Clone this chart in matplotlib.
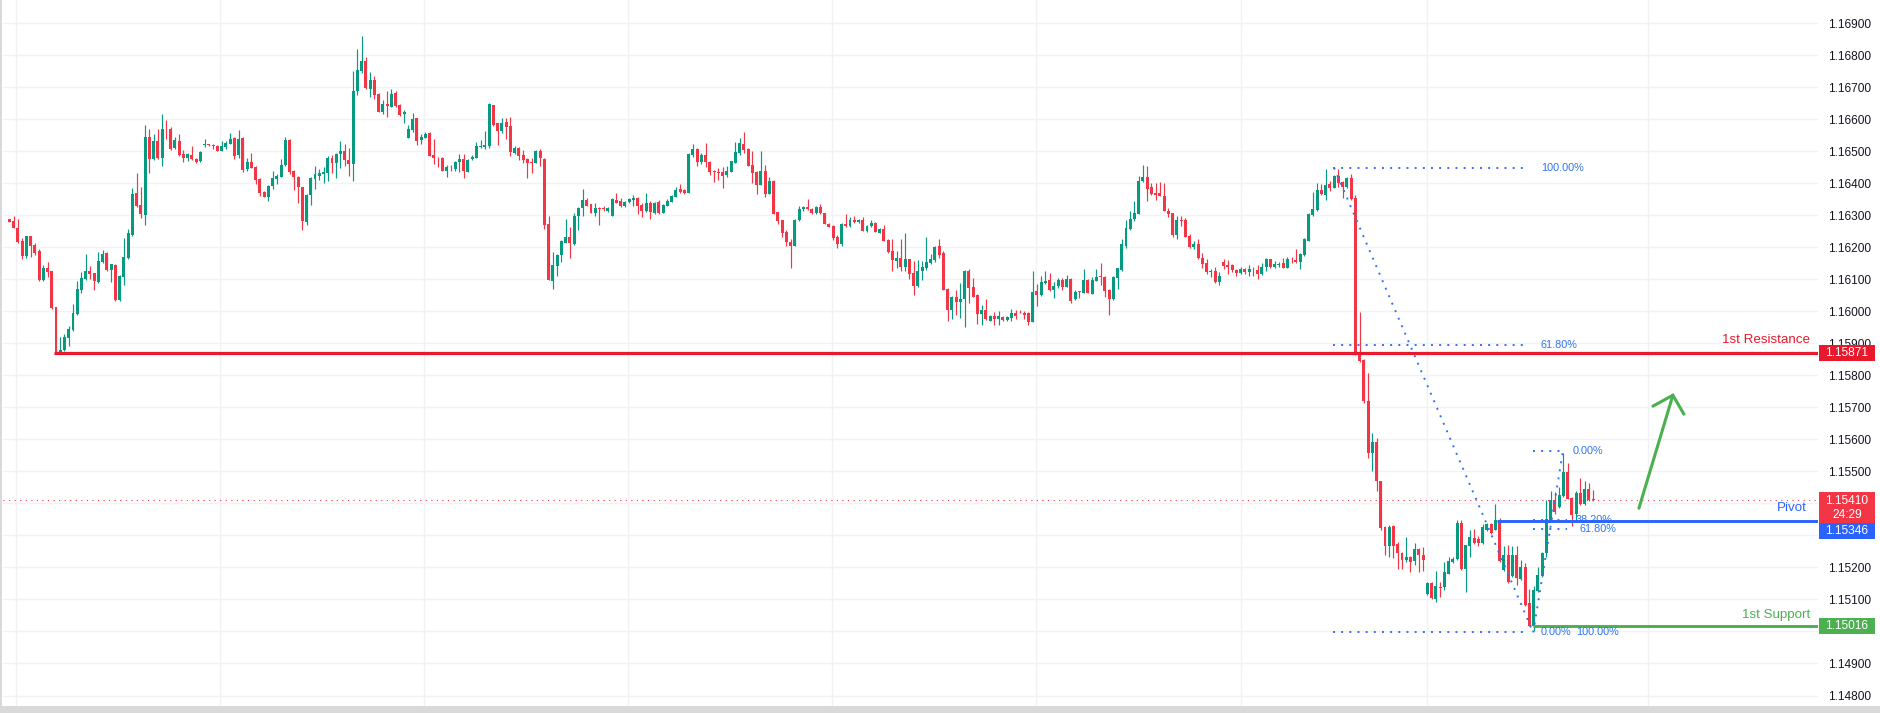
import numpy as np
import matplotlib
matplotlib.use("Agg")
import matplotlib.pyplot as plt
from matplotlib.patches import Rectangle
import matplotlib.transforms as mtransforms

plt.rcParams['font.family'] = ['Liberation Sans', 'DejaVu Sans']

# ---------------- data (EUR/USD 30m) : pips above 1.15000 ----------------
BASE = 1.15000
opens = [
 128.8,128.1,126.0,121.9,117.3,123.4,120.6,118.75,109.7,113.6,112.5,101.25,86.9,87.9,91.7,94.2,99.1,106.7,110.0,112.5,
 111.9,109.1,115.4,118.2,112.8,114.4,103.5,110.7,116.7,123.75,136.9,133.1,130.0,154.4,147.6,153.1,147.9,157.1,156.9,151.0,
 153.1,149.1,147.9,148.75,147.6,147.0,151.9,152.3,152.1,151.8,150.2,151.4,152.4,154.2,148.9,154.2,144.6,146.6,145.1,141.5,
 137.3,135.8,139.3,141.5,142.1,145.7,153.5,143.9,142.0,138.9,128.0,136.5,141.5,142.3,143.0,143.3,147.9,146.5,149.2,150.2,
 147.3,146.1,168.75,175.2,178.2,169.6,172.3,167.9,162.4,164.7,164.0,168.2,164.5,161.6,154.3,156.8,160.4,153.6,154.3,155.7,
 148.9,148.0,148.0,144.0,144.9,144.6,146.8,147.6,143.6,147.5,148.0,151.5,151.5,151.8,164.5,158.75,156.5,159.3,157.9,149.6,
 151.1,148.9,147.6,146.6,146.5,150.2,147.7,127.4,109.6,114.3,117.7,121.5,123.2,121.0,129.8,132.3,134.8,133.5,130.8,132.3,
 132.2,131.25,129.9,134.8,134.5,132.9,134.3,134.8,135.5,133.3,131.5,133.9,130.7,134.3,130.8,133.0,134.3,135.8,138.3,137.9,
 137.1,149.0,150.6,146.8,149.0,146.7,143.9,143.5,143.5,142.7,143.6,146.5,149.6,152.4,150.7,145.6,143.6,139.6,143.75,136.8,
 140.6,131.0,128.5,124.7,121.6,120.5,128.5,131.9,132.6,131.9,130.6,132.5,130.6,127.4,126.7,123.2,121.0,127.2,126.8,128.5,
 127.8,128.5,125.1,126.6,127.5,124.6,125.7,122.4,118.9,115.8,116.7,113.9,116.35,112.0,107.9,112.5,113.4,115.2,116.1,120.4,
 118.2,107.0,100.4,104.6,102.9,103.75,112.6,107.6,105.1,99.2,100.4,97.1,98.5,97.6,98.1,97.3,98.0,99.5,99.9,99.6,
 99.5,96.8,106.35,105.1,108.85,109.7,106.7,107.9,109.8,107.7,110.1,103.75,106.25,105.9,109.8,105.5,109.6,111.0,110.8,106.7,
 103.9,110.3,112.9,120.5,125.7,128.9,130.5,140.7,142.0,139.0,137.0,137.0,136.0,131.5,130.6,123.75,128.5,128.5,123.5,120.0,
 121.0,116.7,115.1,112.4,112.6,109.2,115.4,114.5,114.5,112.9,112.1,113.2,112.3,113.0,112.9,111.7,113.9,116.35,113.9,114.5,
 115.1,113.6,116.5,116.1,115.4,117.6,122.0,130.1,131.7,137.9,136.5,139.8,138.6,142.3,140.4,138.9,141.7,135.4,86.8,84.8,
 72.1,55.7,59.2,46.9,32.6,26.6,32.8,27.4,24.5,22.4,23.4,21.9,25.7,24.0,11.6,15.3,10.2,13.9,13.9,18.1,
 21.6,22.5,33.9,19.5,26.6,29.1,28.9,27.5,31.8,33.6,31.8,34.9,19.1,23.75,17.2,23.9,16.4,20.0,8.9,1.8,
 12.6,17.2,24.5,34.9,41.0,38.9,42.2,49.7,41.7,36.7,43.2,39.7,44.6,41.3]
highs = [
 128.9,129.7,128.75,122.8,123.5,123.6,121.35,119.6,114.4,115.3,112.7,101.5,91.9,93.0,95.4,102.2,109.4,112.2,117.8,114.1,
 112.0,118.4,119.3,118.5,114.8,114.7,111.25,122.8,125.6,138.5,143.1,138.75,158.1,156.9,155.3,156.9,161.6,159.7,157.5,154.4,
 155.3,150.3,149.4,151.6,147.9,150.2,153.9,152.4,152.4,152.0,153.1,153.3,155.6,154.4,156.7,154.4,147.8,149.5,145.3,141.7,
 137.5,139.6,143.75,142.9,147.7,154.5,153.7,144.3,142.2,139.0,136.7,141.9,145.5,144.5,145.1,148.6,149.0,149.4,153.2,152.3,
 151.1,175.0,182.0,186.1,179.5,174.9,173.6,168.3,166.0,168.75,169.5,168.9,164.7,162.9,158.2,162.1,160.5,155.4,156.1,155.9,
 153.9,148.3,148.2,145.6,145.6,147.0,149.2,149.2,147.5,148.9,152.8,153.5,156.4,165.0,164.6,158.9,160.4,160.4,160.7,151.7,
 151.3,150.4,147.8,148.0,150.4,150.8,147.9,129.8,118.6,117.9,122.3,128.9,126.35,130.7,132.5,138.2,135.3,133.7,133.9,132.5,
 132.9,132.5,135.3,136.9,135.3,134.5,135.3,136.35,135.7,134.0,137.0,134.5,134.1,134.8,133.5,135.1,136.25,139.0,139.8,138.1,
 149.4,152.3,150.9,149.6,152.6,146.9,144.2,144.9,145.2,145.3,147.1,152.8,154.1,156.0,151.0,150.1,144.0,150.1,145.6,142.1,
 141.1,131.2,128.7,125.4,122.6,129.0,132.9,133.0,135.0,132.2,133.0,133.5,130.8,127.7,127.0,123.9,127.5,130.5,129.5,129.8,
 129.0,129.5,127.0,128.5,128.0,126.0,127.0,122.6,122.6,118.9,122.6,124.6,116.5,115.7,116.1,115.6,123.2,117.9,120.4,122.6,
 118.9,107.2,104.8,106.6,108.9,112.9,113.3,110.5,105.3,102.0,103.9,98.8,99.8,100.2,98.5,98.5,100.8,100.5,100.5,100.1,
 99.7,112.6,108.6,111.0,112.6,112.0,109.3,110.3,110.3,111.35,110.3,106.6,106.35,113.2,110.1,110.7,113.3,115.2,111.0,106.9,
 110.9,113.6,122.6,128.4,131.4,134.5,142.4,145.7,145.4,140.1,140.1,140.5,140.1,132.2,130.8,129.75,129.8,129.2,124.2,122.0,
 122.6,118.2,116.35,113.2,113.9,112.3,116.35,116.0,114.7,113.2,113.9,113.6,114.5,113.9,114.5,115.1,116.7,116.5,115.7,115.4,
 116.7,117.0,116.9,119.5,118.2,122.9,130.6,137.4,140.1,139.8,144.5,140.7,142.7,144.5,140.7,142.0,142.9,136.35,99.8,85.0,
 80.8,62.0,60.4,47.0,32.8,33.4,33.3,27.8,24.7,29.4,23.6,27.6,26.0,26.4,15.6,15.6,18.9,15.6,21.8,23.2,
 23.4,34.7,34.9,27.1,31.6,32.0,29.7,33.6,33.9,33.8,39.7,35.4,26.6,27.1,26.6,26.6,22.4,21.4,13.2,14.1,
 20.3,24.9,41.1,43.75,43.6,45.1,55.9,52.6,41.9,43.75,47.9,47.1,46.4,44.1]
lows = [
 127.8,125.9,121.5,116.25,116.7,117.0,117.7,109.5,109.5,110.7,100.8,86.9,86.7,87.7,89.2,94.0,98.75,105.6,109.8,110.1,
 106.6,108.9,115.2,112.6,109.2,103.3,103.3,108.3,116.5,123.5,132.7,129.2,126.9,143.1,147.4,147.7,145.4,153.75,150.5,150.8,
 148.4,146.7,147.0,147.3,146.35,146.8,151.4,151.7,150.8,150.1,150.0,150.8,152.2,147.6,148.0,143.4,144.0,144.8,139.9,136.1,
 135.6,134.6,138.3,139.9,141.9,145.5,143.0,138.0,134.0,125.3,126.9,133.3,138.3,141.0,140.2,140.8,143.1,141.8,144.8,145.3,
 142.2,140.8,167.5,174.5,169.6,166.9,166.25,162.2,161.8,160.8,163.8,164.0,161.1,159.0,154.1,156.1,152.0,152.3,154.1,148.4,
 145.9,145.2,143.8,142.1,144.0,143.9,143.6,141.8,143.5,147.2,147.8,150.9,150.6,150.9,157.9,152.0,155.8,153.75,148.5,149.3,
 147.4,146.25,141.8,143.2,146.25,145.5,125.8,109.7,107.0,111.1,115.5,121.3,116.8,120.8,125.4,129.8,132.8,130.6,129.9,127.0,
 131.25,131.0,129.8,133.75,132.7,132.7,133.75,133.0,130.3,129.6,131.1,128.75,130.5,130.5,130.6,132.8,134.1,135.6,137.1,136.7,
 137.0,148.3,145.5,146.0,145.2,142.6,140.5,141.0,138.6,141.9,143.4,146.25,149.0,149.5,145.3,140.0,136.6,139.4,135.8,136.6,
 130.3,127.2,123.1,120.5,113.6,120.3,128.3,131.5,131.7,130.4,130.4,130.4,127.2,126.3,122.3,119.9,120.5,126.5,126.5,127.6,
 127.5,125.0,124.9,126.4,124.7,124.4,121.9,118.3,112.7,113.4,112.7,112.7,110.0,105.1,107.7,109.8,113.0,114.9,115.3,116.7,
 106.6,97.0,97.7,98.9,97.8,95.2,102.6,104.4,96.0,95.9,97.2,96.9,95.9,95.9,97.0,96.9,97.1,97.7,99.5,97.6,
 95.9,96.6,101.7,104.9,108.6,106.35,104.3,107.4,106.8,107.5,102.7,103.5,104.2,105.7,105.6,105.3,109.4,108.2,104.4,99.0,
 103.6,106.9,112.7,119.7,125.5,128.1,130.3,140.5,134.6,136.5,134.7,135.9,131.3,129.5,123.3,122.6,126.8,123.1,119.9,119.5,
 116.5,113.5,111.7,110.7,108.9,108.2,113.2,111.7,112.3,111.0,111.8,111.8,111.1,111.0,110.1,111.35,112.6,113.7,113.6,113.9,
 113.4,113.4,115.1,115.2,113.2,117.4,121.9,129.9,131.5,136.5,134.8,137.6,138.4,138.9,135.4,138.6,134.8,86.3,84.2,71.5,
 54.2,50.0,44.0,31.8,23.75,23.2,23.1,19.5,19.5,21.6,18.5,20.8,18.5,19.0,11.4,10.2,9.1,10.9,13.0,17.9,
 21.4,22.2,19.3,12.2,23.4,27.4,26.6,27.3,31.25,30.5,31.6,21.7,18.9,15.1,17.0,14.4,16.2,8.0,1.6,0.3,
 12.4,17.0,23.4,34.7,36.8,38.7,42.0,41.3,32.8,34.9,39.5,39.5,40.9,40.9]
closes = [
 127.9,126.0,121.7,117.3,123.4,120.4,118.3,109.7,113.6,112.3,101.0,87.1,88.0,91.9,94.4,99.4,106.9,110.3,112.5,111.7,
 109.4,115.6,117.9,112.8,114.7,103.5,110.9,116.9,124.5,136.6,132.9,130.3,154.4,147.6,153.1,147.9,157.1,156.9,150.7,153.4,
 148.75,147.9,149.1,147.6,146.7,149.8,152.3,151.9,151.6,150.2,151.6,152.6,153.9,148.6,153.9,144.3,146.6,144.9,141.1,137.1,
 135.8,139.3,141.7,142.3,145.7,153.5,143.6,142.1,138.9,128.3,136.5,141.7,143.0,143.3,143.5,147.9,146.5,149.2,150.0,147.4,
 146.1,168.75,175.4,178.2,169.8,172.3,167.7,162.4,164.7,164.2,167.9,164.3,161.4,162.4,157.1,160.1,153.3,154.6,155.4,148.6,
 147.8,147.8,144.0,145.2,144.7,146.8,147.6,144.0,147.4,148.3,151.8,151.8,152.0,164.8,158.3,156.5,158.9,157.6,149.9,151.1,
 148.6,147.3,146.5,146.5,150.2,147.8,127.1,109.9,114.5,117.7,122.1,123.2,121.5,129.8,132.3,134.8,133.0,130.8,132.3,131.9,
 131.9,132.3,135.1,133.9,132.9,134.3,135.1,135.5,133.0,131.5,133.9,130.9,133.9,130.7,133.3,134.6,136.0,137.9,137.3,137.0,
 149.2,150.7,146.8,149.0,146.6,143.6,143.6,143.3,142.4,143.9,146.9,149.8,152.6,150.5,145.5,143.3,139.6,143.75,136.8,140.7,
 130.5,128.3,124.4,121.6,120.5,128.5,131.9,132.6,131.9,130.6,132.5,130.6,127.4,126.5,123.0,121.0,127.2,126.8,128.5,127.8,
 128.6,125.1,126.6,127.5,124.9,125.7,122.1,118.5,116.1,116.7,113.9,116.35,111.8,107.9,112.7,113.9,115.4,116.5,120.1,117.6,
 106.8,100.4,104.6,102.9,103.75,112.7,107.4,104.6,99.2,100.4,97.5,98.5,97.6,98.5,97.3,98.1,99.4,98.5,99.7,98.9,
 96.8,106.0,105.1,109.2,109.5,106.8,107.9,109.8,107.7,110.1,103.2,106.0,106.1,109.8,105.8,109.8,110.7,110.8,106.5,103.9,
 110.7,113.4,120.9,126.0,128.9,130.7,140.7,142.0,138.3,136.7,136.35,136.1,131.5,130.5,123.75,128.5,128.3,123.3,120.1,121.0,
 116.7,114.9,112.3,112.6,109.2,111.0,114.2,113.9,112.9,112.1,113.2,112.3,113.2,112.8,111.7,113.9,116.35,113.9,114.8,114.8,
 113.6,116.35,116.25,115.4,117.9,122.6,130.4,131.9,137.9,136.7,139.5,138.5,142.3,140.1,138.9,141.7,135.1,86.5,84.5,71.9,
 55.7,59.2,46.9,32.3,26.8,32.6,26.8,24.5,22.4,23.4,21.7,25.7,24.0,22.4,15.3,10.6,14.1,13.6,18.6,21.9,
 22.8,33.9,19.5,26.9,29.4,27.6,27.6,32.7,33.6,30.7,34.9,21.9,23.75,15.6,23.9,16.6,20.0,8.2,1.8,13.0,
 17.6,24.5,35.1,41.1,37.2,42.5,49.9,41.5,36.5,43.2,39.7,44.6,41.1,41.0]

price_ticks = [1.148 + 0.001 * k for k in range(22)]
# labels hidden under the coloured price boxes in the reference are left blank
hidden_ticks = ["1.15400", "1.15300", "1.15000"]
tick_labels = ["" if ("%.5f" % t) in hidden_ticks else "%.5f" % t for t in price_ticks]

resistance = 1.15871
pivot = 1.15346
support = 1.15016
last_price = 1.15410
countdown = "24:29"

fib1_high, fib1_low = 1.16449, 1.14997
fib1_levels = [(1.0, "100.00%"), (0.618, "61.80%"), (0.0, "0.00%")]
fib2_high, fib2_low = 1.15563, 1.14997
fib2_levels = [(0.0, "0.00%"), (0.382, "38.20%"), (0.618, "61.80%"), (1.0, "100.00%")]

# ---------------- styling ----------------
UP, DN = '#089981', '#f23645'
RES_C, PIV_C, SUP_C = '#e8192c', '#2962ff', '#4caf50'
FIB_C = '#2f74f0'
GRID_C = '#f0f2f6'
TXT_C = '#131722'

to_price = lambda a: BASE + np.asarray(a, dtype=float) / 1e4
o, h, l, c = map(to_price, (opens, highs, lows, closes))
n = len(c)
idx = np.arange(n)

W, H = 1881, 713
fig = plt.figure(figsize=(W / 100, H / 100), dpi=100)
fig.patch.set_facecolor('white')
ax_l, ax_r, ax_b = 3, 1818, 7
ax = fig.add_axes([ax_l / W, ax_b / H, (ax_r - ax_l) / W, (H - ax_b) / H])
ax.set_facecolor('white')

px_per_bar = 4.246
x0 = (9.3 - ax_l) / px_per_bar
ax.set_xlim(-x0, -x0 + (ax_r - ax_l) / px_per_bar)
ax.set_ylim(1.147672, 1.169728)

# grid
for t in price_ticks:
    ax.axhline(t, color=GRID_C, lw=1.0, zorder=0)
for gx in [1.6, 49.7, 97.7, 145.8, 193.8, 241.9, 290.0, 333.9, 386.0]:
    ax.axvline(gx, color=GRID_C, lw=1.0, zorder=0)

# candles
up = c >= o
cols = np.where(up, UP, DN)
ax.vlines(idx, l, h, colors=cols, lw=0.85, zorder=3)
body_lo = np.minimum(o, c)
body_h = np.maximum(np.abs(c - o), 0.000022)
ax.bar(idx, body_h, bottom=body_lo, width=0.7, color=cols, linewidth=0, zorder=3)

# current price dotted line
ax.axhline(last_price, color=DN, lw=0.8, ls=(0, (1, 4)), zorder=2)

# Fibonacci tool 1
f1_x0, f1_x1 = 311.8, 357.7
for lev, lab in fib1_levels:
    y = fib1_low + lev * (fib1_high - fib1_low)
    ax.plot([f1_x0, f1_x1], [y, y], color=FIB_C, lw=1.4, ls=(0, (1, 3.2)), zorder=4)
    ax.text(f1_x1 + 3.0, y, lab, color=FIB_C, fontsize=7.8, va='center', ha='left', zorder=6)
ax.plot([312.0, 358.9], [fib1_high, fib1_low], color=FIB_C, lw=1.4, ls=(0, (1, 3.2)), zorder=4)

# Fibonacci tool 2
f2_x0 = 358.9
f2_ends = {0.0: 365.3, 0.382: 366.9, 0.618: 366.9, 1.0: 358.9}
f2_lab_x = {0.0: 368.3, 0.382: 369.0, 0.618: 369.7, 1.0: 369.0}
for lev, lab in fib2_levels:
    y = fib2_high - lev * (fib2_high - fib2_low)
    if lev == 0.618:
        y = 1.15319
    if f2_ends[lev] > f2_x0:
        ax.plot([f2_x0, f2_ends[lev]], [y, y], color=FIB_C, lw=1.4, ls=(0, (1, 3.2)), zorder=4)
    ax.text(f2_lab_x[lev], y, lab, color=FIB_C, fontsize=7.8, va='center', ha='left', zorder=6)
ax.plot([358.9, 365.9], [fib2_low, fib2_high], color=FIB_C, lw=1.4, ls=(0, (1, 3.2)), zorder=4)

# key levels
xr = ax.get_xlim()[1]
ax.plot([10.5, xr], [resistance] * 2, color=RES_C, lw=2.3, zorder=5, solid_capstyle='butt')
ax.plot([350.4, xr], [pivot] * 2, color=PIV_C, lw=2.1, zorder=7, solid_capstyle='butt')
ax.plot([358.9, xr], [support] * 2, color=SUP_C, lw=2.1, zorder=5, solid_capstyle='butt')

trans_lab = mtransforms.blended_transform_factory(ax.transAxes, ax.transData)
lab_x = (1810 - ax_l) / (ax_r - ax_l)
ax.text(lab_x, 1.15910, "1st Resistance", color=RES_C, fontsize=9.6, ha='right', va='center',
        transform=trans_lab, zorder=8)
ax.text(lab_x - 0.002, 1.15386, "Pivot", color=PIV_C, fontsize=9.6, ha='right', va='center',
        transform=trans_lab, zorder=8)
ax.text(lab_x, 1.15051, "1st Support", color=SUP_C, fontsize=9.6, ha='right', va='center',
        transform=trans_lab, zorder=8)

# projected move arrow
ax.plot([383.8, 391.8], [1.15385, 1.15738], color=SUP_C, lw=2.2, zorder=6, solid_capstyle='round')
ax.plot([387.1, 391.8, 394.4], [1.15704, 1.15738, 1.15679], color=SUP_C, lw=2.2, zorder=6,
        solid_capstyle='round', solid_joinstyle='miter')

# price scale
ax.yaxis.tick_right()
ax.set_yticks(price_ticks)
ax.set_yticklabels(tick_labels)
ax.tick_params(axis='y', length=0, pad=7.3, labelsize=8.6, labelcolor=TXT_C)
ax.set_xticks([])
for s in ax.spines.values():
    s.set_visible(False)

box_x = (1819 - ax_l) / (ax_r - ax_l)
box_w = 56 / (ax_r - ax_l)
def price_box(yc, hh, color, lines):
    r = Rectangle((box_x, yc - hh / 2), box_w, hh, transform=trans_lab, facecolor=color,
                  edgecolor='none', clip_on=False, zorder=20)
    ax.add_patch(r)
    if len(lines) == 1:
        ax.text(box_x + box_w / 2, yc, lines[0], color='white', fontsize=8.6, ha='center', va='center',
                transform=trans_lab, zorder=21, clip_on=False)
    else:
        ax.text(box_x + box_w / 2, yc + hh * 0.23, lines[0], color='white', fontsize=8.6, ha='center',
                va='center', transform=trans_lab, zorder=21, clip_on=False)
        ax.text(box_x + box_w / 2, yc - hh * 0.23, lines[1], color='white', fontsize=8.6, ha='center',
                va='center', transform=trans_lab, zorder=21, clip_on=False)

price_box(resistance - 0.00001, 0.0005, RES_C, ["%.5f" % resistance])
price_box(1.153865, 0.00097, DN, ["%.5f" % last_price, countdown])
price_box(1.153130, 0.0005, PIV_C, ["%.5f" % pivot])
price_box(support + 0.00001, 0.0005, SUP_C, ["%.5f" % support])

# screenshot frame
fig.add_artist(Rectangle((0, 0), 1, ax_b / H, transform=fig.transFigure, facecolor='#d9d9d9',
                         edgecolor='none', zorder=30))
fig.add_artist(Rectangle((0, 0), 2 / W, 1, transform=fig.transFigure, facecolor='#d9d9d9',
                         edgecolor='none', zorder=30))

fig.savefig("out.png", dpi=100, facecolor='white')
